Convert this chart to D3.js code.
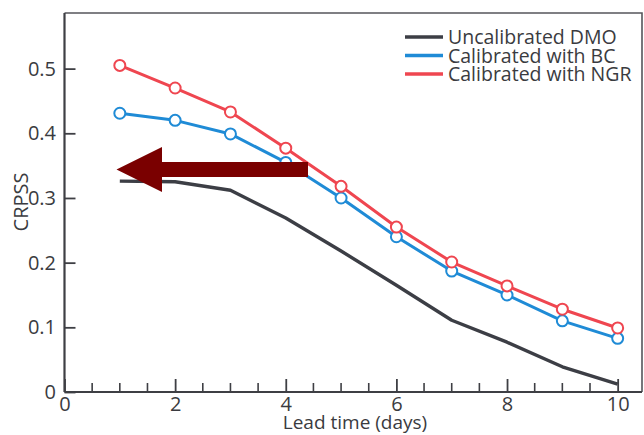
<!DOCTYPE html>
<html>
<head>
<meta charset="utf-8">
<script src="https://cdn.jsdelivr.net/npm/d3@7"></script>
<style>
  html, body { margin: 0; padding: 0; background: #fff; }
  svg { display: block; }
  text { font-family: "Open Sans", "Noto Sans", sans-serif; fill: #3a3b40; }
</style>
</head>
<body>
<svg id="chart" width="644" height="435"></svg>
<script>
// Lead time in days
const leadDays = [1, 2, 3, 4, 5, 6, 7, 8, 9, 10];

// CRPSS per lead time for each forecast version
const dmoValues = [0.326, 0.325, 0.312, 0.269, 0.218, 0.165, 0.111, 0.077, 0.039, 0.012];
const bcValues  = [0.431, 0.420, 0.399, 0.355, 0.300, 0.240, 0.187, 0.150, 0.110, 0.083];
const ngrValues = [0.505, 0.470, 0.433, 0.377, 0.318, 0.255, 0.201, 0.164, 0.128, 0.099];

const seriesNames = ["Uncalibrated DMO", "Calibrated with BC", "Calibrated with NGR"];
const seriesColors = ["#3c3e45", "#1f8bd6", "#ef4650"];

const xTickValues = [0, 2, 4, 6, 8, 10];
const yTickValues = [0, 0.1, 0.2, 0.3, 0.4, 0.5];

const svg = d3.select("#chart");
const plotLeft = 64.5, plotRight = 642, plotTop = 13, plotBottom = 392;

const x = d3.scaleLinear().domain([0, 10.44]).range([plotLeft, plotRight]);
const y = d3.scaleLinear().domain([0, 0.586]).range([plotBottom, plotTop]);

const axisColor = "#3e3f44";
const labelSize = "20px";

// frame: top and right edges
svg.append("path")
  .attr("d", `M${plotLeft},${plotTop}H${plotRight}V${plotBottom}`)
  .attr("fill", "none").attr("stroke", "#55565b").attr("stroke-width", 1.6);

// minor ticks on the x axis every half day
const minorTicks = d3.range(0.5, 10.01, 0.5).filter(v => v % 2 !== 0);
svg.append("g").selectAll("line").data(minorTicks).join("line")
  .attr("x1", d => x(d)).attr("x2", d => x(d))
  .attr("y1", plotBottom).attr("y2", plotBottom - 9)
  .attr("stroke", axisColor).attr("stroke-width", 1.6);

// x axis with major ticks pointing inward
const xAxis = svg.append("g")
  .attr("transform", `translate(0,${plotBottom})`)
  .call(d3.axisBottom(x).tickValues(xTickValues).tickFormat(d3.format("d"))
    .tickSizeInner(-13).tickSizeOuter(0).tickPadding(5));
xAxis.select(".domain").attr("stroke", axisColor).attr("stroke-width", 2.2)
  .attr("d", `M${plotLeft},0H${plotRight}`);
xAxis.selectAll(".tick line").attr("stroke", axisColor).attr("stroke-width", 1.8);
xAxis.selectAll(".tick text").attr("y", 19).attr("dy", null)
  .style("font-size", labelSize).style("fill", "#3a3b40");

// y axis with ticks pointing inward
const yAxis = svg.append("g")
  .attr("transform", `translate(${plotLeft},0)`)
  .call(d3.axisLeft(y).tickValues(yTickValues).tickFormat(d => d === 0 ? "0" : d3.format(".1f")(d))
    .tickSizeInner(-11).tickSizeOuter(0).tickPadding(6));
yAxis.select(".domain").attr("stroke", axisColor).attr("stroke-width", 2.2)
  .attr("d", `M0,${plotTop}V${plotBottom}`);
yAxis.selectAll(".tick line").attr("stroke", axisColor).attr("stroke-width", 1.8);
yAxis.selectAll(".tick text").attr("x", -8.5)
  .style("font-size", labelSize).style("fill", "#3a3b40");

// axis titles
svg.append("text")
  .attr("x", 355).attr("y", 429)
  .attr("text-anchor", "middle").style("font-size", "19px")
  .text("Lead time (days)");
svg.append("text")
  .attr("transform", "translate(28,202) rotate(-90)")
  .attr("text-anchor", "middle").style("font-size", "20px")
  .text("CRPSS");

const line = d3.line().x(d => x(d[0])).y(d => y(d[1]));
const allSeries = [dmoValues, bcValues, ngrValues].map(vals => leadDays.map((d, i) => [d, vals[i]]));

// lines
allSeries.forEach((pts, i) => {
  svg.append("path").datum(pts)
    .attr("d", line)
    .attr("fill", "none")
    .attr("stroke", seriesColors[i])
    .attr("stroke-width", i === 0 ? 3.4 : 3)
    .attr("stroke-linejoin", "round");
});

// open circle markers on the calibrated series
[1, 2].forEach(i => {
  svg.append("g").selectAll("circle").data(allSeries[i]).join("circle")
    .attr("cx", d => x(d[0])).attr("cy", d => y(d[1]))
    .attr("r", 5.5)
    .attr("fill", "#fff")
    .attr("stroke", seriesColors[i])
    .attr("stroke-width", 2);
});

// legend
const legend = svg.append("g");
seriesNames.forEach((name, i) => {
  const ly = 37 + i * 18.5;
  legend.append("line")
    .attr("x1", 405).attr("x2", 443).attr("y1", ly).attr("y2", ly)
    .attr("stroke", seriesColors[i]).attr("stroke-width", 3.4);
  legend.append("text")
    .attr("x", 448).attr("y", ly + 7)
    .style("font-size", "19.5px")
    .text(name);
});

// annotation arrow pointing left toward the axis
const arrow = d3.path();
arrow.moveTo(308, 162);
arrow.lineTo(162, 162);
arrow.lineTo(162, 147);
arrow.lineTo(116.5, 169.5);
arrow.lineTo(162, 192);
arrow.lineTo(162, 177);
arrow.lineTo(308, 177);
arrow.closePath();
svg.append("path").attr("d", arrow.toString()).attr("fill", "#7a0000");
</script>
</body>
</html>
